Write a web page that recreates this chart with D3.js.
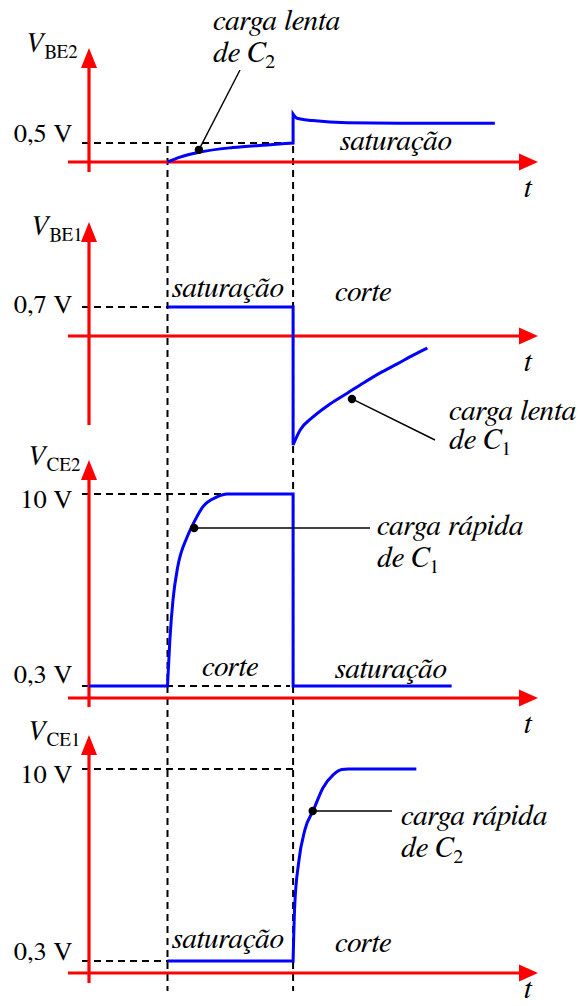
<!DOCTYPE html>
<html>
<head>
<meta charset="utf-8">
<script src="https://cdn.jsdelivr.net/npm/d3@7"></script>
<style>
  body { margin: 0; background: #fff; }
  svg { display: block; }
</style>
</head>
<body>
<svg id="chart" width="581" height="1006"></svg>
<script>
// ---- data -------------------------------------------------------------
// switching instants of the astable multivibrator (time units along t)
const switchTimes = [1.0, 2.6];

// axis names: italic symbol + upright subscript
const axisNames = [["V", "BE2"], ["V", "BE1"], ["V", "CE2"], ["V", "CE1"]];

// reference levels marked on each voltage axis
const levelValues = [[0.5], [0.7], [0.3, 10], [0.3, 10]];
const levelLabels = [["0,5 V"], ["0,7 V"], ["0,3 V", "10 V"], ["0,3 V", "10 V"]];

// waveforms, as runs of [t, v]; consecutive runs are joined by a vertical step
const vbe2Runs = [
  [[1.0, 0], [1.16, 0.13], [1.41, 0.26], [1.83, 0.38], [2.27, 0.45], [2.6, 0.5]],
  [[2.6, 1.26], [2.65, 1.15], [2.85, 1.09], [3.29, 1.03], [3.96, 1.02], [5.17, 1.02]]
];
const vbe1Runs = [
  [[1.0, 0.7], [2.6, 0.7]],
  [[2.6, -2.63], [2.69, -2.27], [2.85, -1.96], [3.07, -1.64], [3.29, -1.38],
   [3.49, -1.14], [3.71, -0.89], [3.92, -0.68], [4.13, -0.46], [4.31, -0.29]]
];
const vce2Runs = [
  [[0, 0.3], [1.0, 0.3]],
  [[1.0, 0.3], [1.03, 2.62], [1.07, 4.65], [1.13, 6.31], [1.25, 7.83], [1.34, 8.59],
   [1.45, 9.35], [1.63, 9.85], [1.76, 10], [2.6, 10]],
  [[2.6, 0.3], [4.62, 0.3]]
];
const vce1Runs = [
  [[1.0, 0.3], [2.6, 0.3]],
  [[2.6, 0.3], [2.62, 3.03], [2.67, 5.25], [2.75, 6.92], [2.86, 7.93], [2.98, 9.04],
   [3.11, 9.7], [3.22, 9.97], [3.3, 10], [4.17, 10]]
];
const waveforms = [vbe2Runs, vbe1Runs, vce2Runs, vce1Runs];

// state names written in each panel
const stateTexts = [
  ["saturação"],
  ["saturação", "corte"],
  ["corte", "saturação"],
  ["saturação", "corte"]
];

// annotated curve points [t, v] and their captions
const notePoints = [[1.40, 0.32], [3.35, -1.52], [1.34, 8.28], [2.85, 7.88]];
const noteLines = [
  ["carga lenta", ["de C", "2"]],
  ["carga lenta", ["de C", "1"]],
  ["carga rápida", ["de C", "1"]],
  ["carga rápida", ["de C", "2"]]
];

// ---- layout -----------------------------------------------------------
const FONT = '"FreeSerif", "Liberation Serif", "Times New Roman", serif';
const ITALIC = 29.5;
const axisX0 = 68, axisX1 = 538, guideX0 = 82;
const x = d3.scaleLinear().domain([0, 5.72]).range([89, 538]);

const panels = [
  { dom: [0, 0.5], rng: [162, 143], axisY: 162, top: 48, bottom: 172,
    name: [25, 52], tickBase: [142], guideEnd: [298],
    states: [[340, 150]], note: { end: [240, 70], x: 213, base: [30, 62] } },
  { dom: [0, 0.7], rng: [336, 307], axisY: 336, top: 222, bottom: 425,
    name: [30, 235], tickBase: [313], guideEnd: [168],
    states: [[172, 297], [335, 301]], note: { end: [435, 440], x: 449, base: [420, 449] } },
  { dom: [0.3, 10], rng: [686, 494], axisY: 698, top: 460, bottom: 707,
    name: [27, 465], tickBase: [683, 508], guideEnd: [290, 298],
    states: [[202, 676], [335, 678]], note: { end: [370, 528], x: 377, base: [535, 567] } },
  { dom: [0.3, 10], rng: [961, 769], axisY: 973, top: 735, bottom: 983,
    name: [27, 740], tickBase: [960, 783], guideEnd: [298, 298],
    states: [[172, 948], [335, 952]], note: { end: [392, 811], x: 401, base: [825, 857] } }
];

const RED = "#ff0000", BLUE = "#0000ff";
const svg = d3.select("#chart");

function label(sel, size, italic) {
  return sel.style("font-family", FONT).attr("font-size", size)
    .attr("font-style", italic ? "italic" : "normal").attr("fill", "#000");
}

// vertical dashed markers at the switching instants, through all panels
svg.append("g").selectAll("line").data(switchTimes).join("line")
  .attr("x1", d => x(d)).attr("x2", d => x(d))
  .attr("y1", 146).attr("y2", 991)
  .attr("stroke", "#000").attr("stroke-width", 2).attr("stroke-dasharray", "7,5");

const line = d3.line().x(d => x(d[0])).curve(d3.curveMonotoneX);

panels.forEach((p, i) => {
  const y = d3.scaleLinear().domain(p.dom).range(p.rng);
  const g = svg.append("g");

  // horizontal dashed level guides
  g.selectAll("line.guide").data(levelValues[i]).join("line")
    .attr("class", "guide")
    .attr("x1", guideX0).attr("x2", (d, k) => p.guideEnd[k])
    .attr("y1", d => y(d)).attr("y2", d => y(d))
    .attr("stroke", "#000").attr("stroke-width", 2).attr("stroke-dasharray", "7,5");

  // level labels
  label(g.selectAll("text.lvl").data(levelLabels[i]).join("text"), 26.5, false)
    .attr("class", "lvl")
    .attr("x", 72).attr("y", (d, k) => p.tickBase[k])
    .attr("text-anchor", "end")
    .text(d => d);

  // axes with arrowheads
  g.append("line").attr("x1", axisX0).attr("x2", axisX1 - 14)
    .attr("y1", p.axisY).attr("y2", p.axisY)
    .attr("stroke", RED).attr("stroke-width", 3.2);
  g.append("path")
    .attr("d", `M${axisX1},${p.axisY}L${axisX1 - 19},${p.axisY - 8.5}L${axisX1 - 19},${p.axisY + 8.5}Z`)
    .attr("fill", RED);
  g.append("line").attr("x1", x(0)).attr("x2", x(0))
    .attr("y1", p.bottom).attr("y2", p.top + 15)
    .attr("stroke", RED).attr("stroke-width", 3.2);
  g.append("path")
    .attr("d", `M${x(0)},${p.top}L${x(0) - 8},${p.top + 20}L${x(0) + 8},${p.top + 20}Z`)
    .attr("fill", RED);

  // axis names
  const nm = label(g.append("text"), 28, true).attr("x", p.name[0]).attr("y", p.name[1]);
  nm.append("tspan").text(axisNames[i][0]);
  nm.append("tspan").attr("font-style", "normal").attr("font-size", 19)
    .attr("dy", 6).attr("dx", 1).text(axisNames[i][1]);

  label(g.append("text"), ITALIC, true)
    .attr("x", 524).attr("y", Math.min(p.axisY + 35, 998)).text("t");

  // waveform: runs drawn smooth, joined by vertical steps
  line.y(d => y(d[1]));
  const d = waveforms[i].map((run, k) => {
    const s = line(run);
    return k === 0 ? s : "L" + s.slice(1);
  }).join("");
  g.append("path").attr("d", d)
    .attr("fill", "none").attr("stroke", BLUE).attr("stroke-width", 3)
    .attr("stroke-linejoin", "miter");

  // state names
  label(g.selectAll("text.state").data(stateTexts[i]).join("text"), ITALIC, true)
    .attr("class", "state")
    .attr("x", (s, k) => p.states[k][0]).attr("y", (s, k) => p.states[k][1])
    .text(s => s);

  // annotation: dot, leader line and caption
  const [nt, nv] = notePoints[i];
  g.append("line")
    .attr("x1", x(nt)).attr("y1", y(nv)).attr("x2", p.note.end[0]).attr("y2", p.note.end[1])
    .attr("stroke", "#000").attr("stroke-width", 1.4);
  g.append("circle").attr("cx", x(nt)).attr("cy", y(nv)).attr("r", 4.2).attr("fill", "#000");
  label(g.append("text"), ITALIC, true)
    .attr("x", p.note.x).attr("y", p.note.base[0]).text(noteLines[i][0]);
  const t2 = label(g.append("text"), ITALIC, true)
    .attr("x", p.note.x).attr("y", p.note.base[1]);
  t2.append("tspan").text(noteLines[i][1][0]);
  t2.append("tspan").attr("font-style", "normal").attr("font-size", 20).attr("dy", 6)
    .text(noteLines[i][1][1]);
});
</script>
</body>
</html>
